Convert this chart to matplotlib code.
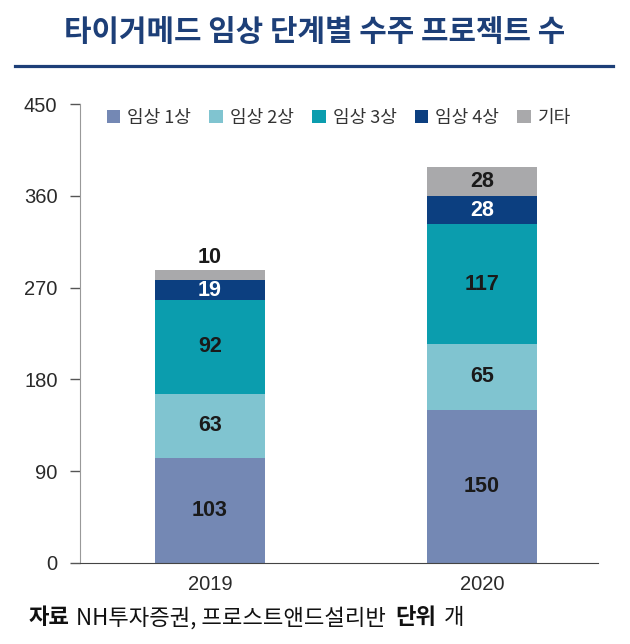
import matplotlib.pyplot as plt
from matplotlib.lines import Line2D
import numpy as np

plt.rcParams['font.family'] = ['Noto Sans CJK KR', 'DejaVu Sans']

years = ['2019', '2020']
phase1 = [103, 150]
phase2 = [63, 65]
phase3 = [92, 117]
phase4 = [19, 28]
other = [10, 28]

series = [phase1, phase2, phase3, phase4, other]
names = ['임상 1상', '임상 2상', '임상 3상', '임상 4상', '기타']
colors = ['#7488b4', '#80c4d0', '#0b9dae', '#0c3f80', '#a9a9ab']
text_colors = ['#1a1a1a', '#1a1a1a', '#1a1a1a', 'white', '#1a1a1a']

fig = plt.figure(figsize=(6.3, 6.44), dpi=100)
ax = fig.add_axes([80 / 630, 81 / 644, 518 / 630, 459 / 644])

x = np.arange(len(years))
bottom = np.zeros(len(years))
num_font = ['Liberation Sans', 'DejaVu Sans']
for vals, name, c, tc in zip(series, names, colors, text_colors):
    vals = np.array(vals)
    ax.bar(x, vals, 0.405, bottom=bottom, color=c, label=name)
    for xi, v, b in zip(x, vals, bottom):
        if v < 15:
            ax.text(xi, b + v + 2, str(v), ha='center', va='bottom',
                    fontsize=15.5, fontweight='bold', color=tc, family=num_font)
        else:
            ax.text(xi, b + v / 2, str(v), ha='center', va='center',
                    fontsize=15.5, fontweight='bold', color=tc, family=num_font)
    bottom += vals

ax.set_xlim(-0.478, 1.426)
ax.set_ylim(0, 450)
ax.set_yticks(range(0, 451, 90))
ax.set_xticks(x)
ax.set_xticklabels(years)
for lab in ax.get_xticklabels() + ax.get_yticklabels():
    lab.set_family(num_font)
    lab.set_fontsize(14.5)
    lab.set_color('#2a2a2a')
ax.tick_params(axis='x', length=0, pad=9)
ax.tick_params(axis='y', length=7.2, width=1, direction='out', color='#555555', pad=9)
for s in ['top', 'right']:
    ax.spines[s].set_visible(False)
ax.spines['left'].set_color('#999999')
ax.spines['bottom'].set_color('#444444')

leg = ax.legend(loc='upper center', bbox_to_anchor=(0.5, 1.025), ncol=5, frameon=False,
                handlelength=0.75, handleheight=0.75, handletextpad=0.4, columnspacing=1.0,
                fontsize=13)
for t in leg.get_texts():
    t.set_color('#333333')

fig.text(0.5, 1 - 32 / 644, '타이거메드 임상 단계별 수주 프로젝트 수', ha='center', va='center',
         fontsize=21.5, fontweight='bold', color='#1d3f78')
fig.add_artist(Line2D([15 / 630, 613 / 630], [1 - 66 / 644, 1 - 66 / 644],
                      color='#1d3f78', lw=2.3))

# footer pieces placed one after another
renderer = fig.canvas.get_renderer()
xpos = 29
parts = [('자료', 'bold', 6), ('NH투자증권, 프로스트앤드설리반', 'normal', 9),
         ('단위', 'bold', 8), ('개', 'normal', 0)]
for txt, w, gap in parts:
    t = fig.text(xpos / 630, 1 - 618 / 644, txt, ha='left', va='center', fontsize=16,
                 fontweight=w, color='#111111')
    bb = t.get_window_extent(renderer)
    xpos += bb.width + gap

fig.savefig('out.png', dpi=100)
